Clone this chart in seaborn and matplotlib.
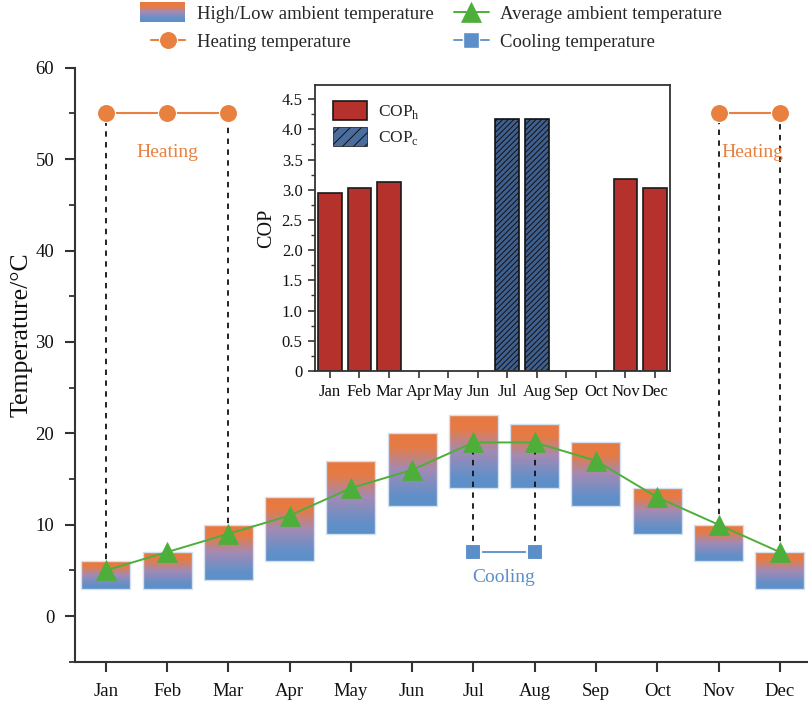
import numpy as np
import pandas as pd
import matplotlib
matplotlib.use("Agg")
import matplotlib.pyplot as plt
import seaborn as sns
from matplotlib.colors import LinearSegmentedColormap
from matplotlib.legend_handler import HandlerBase
from matplotlib.patches import Rectangle, Patch
from matplotlib.lines import Line2D
from matplotlib.ticker import MultipleLocator

# ---------------- data ----------------
months = ['Jan', 'Feb', 'Mar', 'Apr', 'May', 'Jun', 'Jul', 'Aug', 'Sep', 'Oct', 'Nov', 'Dec']
temp_high = [6, 7, 10, 13, 17, 20, 22, 21, 19, 14, 10, 7]
temp_low = [3, 3, 4, 6, 9, 12, 14, 14, 12, 9, 6, 3]
temp_avg = [5, 7, 9, 11, 14, 16, 19, 19, 17, 13, 10, 7]

heat_months = ['Jan', 'Feb', 'Mar', 'Nov', 'Dec']
heat_temp = [55, 55, 55, 55, 55]
heat_group = [1, 1, 1, 2, 2]
heat_drop_months = ['Jan', 'Mar', 'Nov', 'Dec']

cool_months = ['Jul', 'Aug']
cool_temp = [7, 7]

cop_months = ['Jan', 'Feb', 'Mar', 'Jul', 'Aug', 'Nov', 'Dec']
cop_values = [2.94, 3.03, 3.13, 4.17, 4.17, 3.17, 3.03]
cop_type = ['h', 'h', 'h', 'c', 'c', 'h', 'h']

# ---------------- style ----------------
sns.set_theme(style="ticks")
plt.rcParams['font.family'] = ['Liberation Serif', 'DejaVu Serif']
plt.rcParams['mathtext.fontset'] = 'custom'
plt.rcParams['mathtext.rm'] = 'Liberation Serif'
plt.rcParams['hatch.linewidth'] = 0.7

ORANGE = '#E8803F'
BLUE = '#5B8FC9'
GREEN = '#4DAF3A'
RED = '#B5312B'
NAVY = '#3F5F8F'
AXC = '#333333'

grad_cmap = LinearSegmentedColormap.from_list(
    'tempgrad',
    [(0.0, '#5B8FC9'), (0.15, '#6290C8'), (0.5, '#A38AB4'), (0.8, '#E57B45'), (1.0, '#E8793F')])

fig = plt.figure(figsize=(8.08, 7.04), dpi=100)
ax = fig.add_axes([0.093, 0.06, 0.907, 0.8437])

x = np.arange(len(months))
idx = {m: i for i, m in enumerate(months)}

# gradient bars
bars = ax.bar(x, np.array(temp_high) - np.array(temp_low), bottom=temp_low, width=0.8,
              facecolor='none', edgecolor='#D3E0F0', linewidth=1.0, zorder=2)
grad = np.linspace(0, 1, 256).reshape(-1, 1)
for b in bars:
    x0, y0 = b.get_x(), b.get_y()
    w, h = b.get_width(), b.get_height()
    im = ax.imshow(grad, cmap=grad_cmap, origin='lower', aspect='auto',
                   extent=[x0, x0 + w, y0, y0 + h], zorder=1.5, interpolation='bilinear')
    im.set_clip_path(b)

# dashed connectors
hx = [idx[m] for m in heat_drop_months]
hy_top = [heat_temp[heat_months.index(m)] for m in heat_drop_months]
hy_bot = [temp_avg[idx[m]] for m in heat_drop_months]
ax.vlines(hx, hy_bot, hy_top, colors='#111111', linestyles=(0, (3, 3)), linewidth=1.3, zorder=3)
cx = [idx[m] for m in cool_months]
cy_bot = cool_temp
cy_top = [temp_avg[idx[m]] for m in cool_months]
ax.vlines(cx, cy_bot, cy_top, colors='#111111', linestyles=(0, (3, 3)), linewidth=1.3, zorder=3)

# average line
sns.lineplot(x=x, y=temp_avg, ax=ax, color=GREEN, linewidth=1.4, marker='^', markersize=14,
             markeredgecolor=GREEN, markeredgewidth=0.5, zorder=4)

# heating lines
hdf = pd.DataFrame({'x': [idx[m] for m in heat_months], 'y': heat_temp, 'g': heat_group})
for g, sub in hdf.groupby('g'):
    ax.plot(sub['x'], sub['y'], color=ORANGE, linewidth=1.5, marker='o', markersize=13,
            markeredgecolor='white', markeredgewidth=0.8, zorder=4)

# cooling line
ax.plot([idx[m] for m in cool_months], cool_temp, color=BLUE, linewidth=1.3, marker='s',
        markersize=11, markeredgecolor='white', markeredgewidth=1.5, zorder=4)

ax.text(1, 50.7, 'Heating', color=ORANGE, fontsize=14, ha='center', va='center')
ax.text(10.55, 50.7, 'Heating', color=ORANGE, fontsize=14, ha='center', va='center')
ax.text(6.5, 4.2, 'Cooling', color=BLUE, fontsize=14, ha='center', va='center')

ax.set_xlim(-0.5, 11.46)
ax.set_ylim(-5, 60)
ax.set_xticks(x)
ax.set_xticklabels(months)
ax.set_yticks([0, 10, 20, 30, 40, 50, 60])
ax.yaxis.set_minor_locator(MultipleLocator(5))
ax.set_ylabel('Temperature/°C', fontsize=18.5, color='#111111')
ax.yaxis.set_label_coords(-0.058, 0.55)
ax.set_xlabel('')
for s in ['top', 'right']:
    ax.spines[s].set_visible(False)
for s in ['left', 'bottom']:
    ax.spines[s].set_linewidth(1.5)
    ax.spines[s].set_color(AXC)
ax.tick_params(axis='both', which='major', direction='out', length=7, width=1.5,
               color=AXC, labelsize=13.5, labelcolor='#111111', pad=8)
ax.tick_params(axis='y', which='minor', direction='out', length=4, width=1.3, color=AXC)
ax.set_facecolor('white')

# ---------------- main legend ----------------
class GradientHandler(HandlerBase):
    def create_artists(self, legend, orig_handle, xdescent, ydescent, width, height, fontsize, trans):
        n = 40
        arts = []
        ext = 0.25 * height
        hh = height + 2 * ext
        xl = -xdescent - 0.3 * width
        for i in range(n):
            r = Rectangle((xl, -ydescent - ext + i * hh / n), width * 1.3, hh / n * 1.05,
                          facecolor=grad_cmap(i / (n - 1)), edgecolor='none', transform=trans)
            arts.append(r)
        return arts

grad_handle = Patch(facecolor='none', label='High/Low ambient temperature')
h_heat = Line2D([], [], color=ORANGE, marker='o', markersize=13, linewidth=1.5,
                markeredgecolor='white', markeredgewidth=0.8)
h_avg = Line2D([], [], color=GREEN, marker='^', markersize=14, linewidth=1.4,
               markeredgecolor=GREEN, markeredgewidth=0.5)
h_cool = Line2D([], [], color=BLUE, marker='s', markersize=11, linewidth=1.3,
                markeredgecolor='white', markeredgewidth=1.0)
fig.legend([grad_handle, h_heat, h_avg, h_cool],
           ['High/Low ambient temperature', 'Heating temperature',
            'Average ambient temperature', 'Cooling temperature'],
           handler_map={Patch: GradientHandler()},
           loc='center', bbox_to_anchor=(0.54, 0.96), ncol=2, frameon=False,
           fontsize=13.5, handlelength=1.85, columnspacing=1.1, handletextpad=0.6,
           labelspacing=0.6)

# ---------------- inset ----------------
axin = fig.add_axes([0.39, 0.473, 0.439, 0.406])
cdf = pd.DataFrame({'month': cop_months, 'cop': cop_values, 'type': cop_type})
sns.barplot(data=cdf, x='month', y='cop', hue='type', order=months, hue_order=['h', 'c'],
            palette={'h': RED, 'c': NAVY}, dodge=False, width=0.8, ax=axin,
            edgecolor='#1a1a1a', linewidth=1.2, legend=False, saturation=1)
has_hc = hasattr(matplotlib.patches.Patch, 'set_hatchcolor')
for p in axin.containers[1]:
    p.set_hatch('//////')
    if has_hc:
        p.set_edgecolor('#9DB8DD')
        p.set_hatchcolor('#111111')
    else:
        p.set_edgecolor('#111111')

axin.set_xlim(-0.5, 11.5)
axin.set_ylim(0, 4.73)
axin.set_yticks(np.arange(0, 4.51, 0.5))
axin.set_yticklabels(['0'] + [f'{v:.1f}' for v in np.arange(0.5, 4.51, 0.5)])
axin.yaxis.set_minor_locator(MultipleLocator(0.25))
axin.set_xlabel('')
axin.set_ylabel('COP', fontsize=14.5, color='#111111', labelpad=4)
for s in axin.spines.values():
    s.set_linewidth(1.3)
    s.set_color(AXC)
axin.tick_params(axis='both', which='major', direction='out', length=5, width=1.2,
                 color=AXC, labelsize=12, labelcolor='#111111', pad=4)
axin.tick_params(axis='y', which='minor', direction='out', length=3, width=1.0, color=AXC)

leg_h = Patch(facecolor=RED, edgecolor='#1a1a1a', linewidth=1.2)
if has_hc:
    leg_c = Patch(facecolor='#4A6D9E', edgecolor='#9DB8DD', hatch='///', linewidth=1.0)
    leg_c.set_hatchcolor('#111111')
else:
    leg_c = Patch(facecolor='#4A6D9E', edgecolor='#111111', hatch='///', linewidth=0.5)
axin.legend([leg_h, leg_c], [r'COP$_\mathregular{h}$', r'COP$_\mathregular{c}$'],
            loc='upper left', bbox_to_anchor=(0.005, 1.0), frameon=False, fontsize=12.5,
            handlelength=2.0, handleheight=1.3, handletextpad=0.6, labelspacing=0.35)

fig.savefig('out.png', dpi=100, facecolor='white')
